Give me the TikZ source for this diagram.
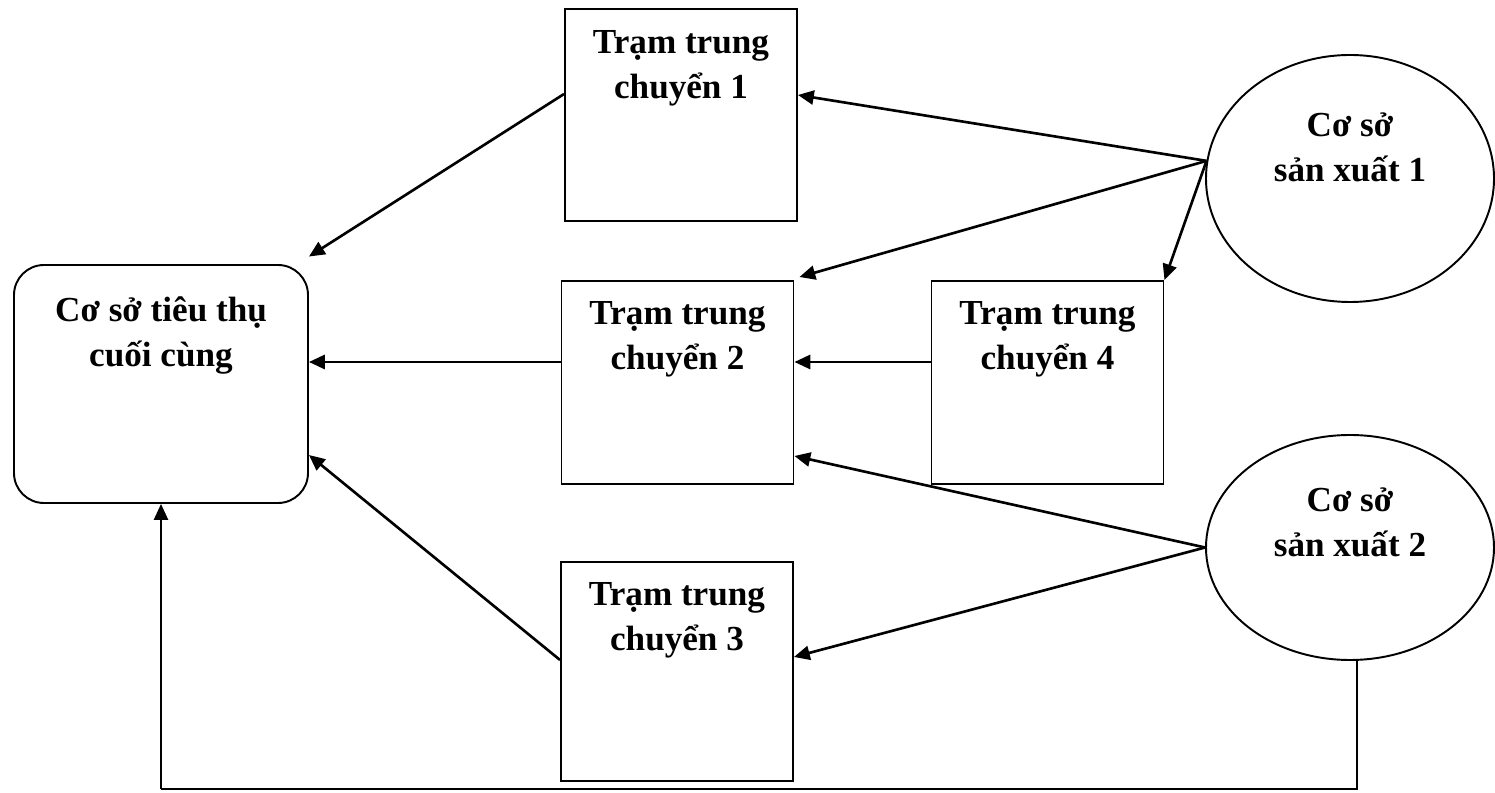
\documentclass[tikz,border=0pt]{standalone}
\usepackage{fontspec}
\setmainfont{Liberation Serif}
\usetikzlibrary{positioning,calc,shapes.geometric,arrows.meta}

\tikzset{
  station/.style={draw, rectangle, line width=1.1pt, minimum width=4.64cm, minimum height=4.06cm},
  hub/.style={draw, rectangle, rounded corners=0.6cm, line width=1.1pt, minimum width=5.88cm, minimum height=4.76cm},
  source/.style={draw, ellipse, line width=1.1pt, minimum width=5.76cm},
  lbl/.style={font=\fontsize{20}{25.6}\selectfont\bfseries, align=center, inner sep=0pt, anchor=north},
  flow/.style={-{Triangle[length=9pt,width=8pt]}, line width=1.5pt},
}

\begin{document}
\begin{tikzpicture}
  \useasboundingbox (0,0) rectangle (29.9,-15.86);

  \node[hub] (cons) at (3.22,-7.68) {};
  \node[station, minimum height=4.24cm] (tram1) at ($(cons) + (10.40,5.38)$) {};
  \node[station] (tram2) at ($(cons) + (10.33,0.03)$) {};
  \node[station] (tram4) at ($(tram2) + (7.40,0)$) {};
  \node[station, minimum height=4.38cm] (tram3) at (13.54,-13.43) {};
  \node[source, minimum height=4.94cm] (p1) at (27.0,-3.57) {};
  \node[source, minimum height=4.5cm] (p2) at (27.0,-10.95) {};

  % text sits in the upper part of each shape
  \node[lbl, below=0.64cm of cons.north] (consTxt) {Cơ sở tiêu thụ\\cuối cùng};
  \node[lbl, below=0.44cm of tram1.north] (tram1Txt) {Trạm trung\\chuyển 1};
  \node[lbl, below=0.42cm of tram2.north] (tram2Txt) {Trạm trung\\chuyển 2};
  \node[lbl, below=0.42cm of tram3.north] (tram3Txt) {Trạm trung\\chuyển 3};
  \node[lbl, below=0.42cm of tram4.north] (tram4Txt) {Trạm trung\\chuyển 4};
  \node[lbl] (p1Txt) at ($(p1) + (0,1.33)$) {Cơ sở\\sản xuất 1};
  \node[lbl] (p2Txt) at ($(p2) + (0,1.21)$) {Cơ sở\\sản xuất 2};

  \draw[flow] ([yshift=0.42cm]tram1.west) -- ([yshift=0.15cm]cons.north east);
  \draw[flow] (p1.173) -- ([yshift=0.4cm]tram1.east);
  \draw[flow] (p1.173) -- ([shift={(0.1cm,0.06cm)}]tram2.north east);
  \draw[flow] (p1.173) -- (tram4.north east);
  \draw[flow] ([yshift=0.41cm]tram4.west) -- ([yshift=0.41cm]tram2.east);
  \draw[flow] ([yshift=0.41cm]tram2.west) -- ([yshift=0.44cm]cons.east);
  \draw[flow] (p2.west) -- ([yshift=-1.47cm]tram2.east);
  \draw[flow] (p2.west) -- ([yshift=0.29cm]tram3.east);
  \draw[flow] ([yshift=0.23cm]tram3.west) -- ([yshift=-1.42cm]cons.east);

  % direct delivery along the bottom
  \coordinate (ret) at (3.22,-15.78);
  \draw[line width=0.8pt] ([xshift=0.14cm]p2.south) |- (ret);
  \draw[flow, line width=1.1pt] (ret) -- (cons.south);
\end{tikzpicture}
\end{document}
